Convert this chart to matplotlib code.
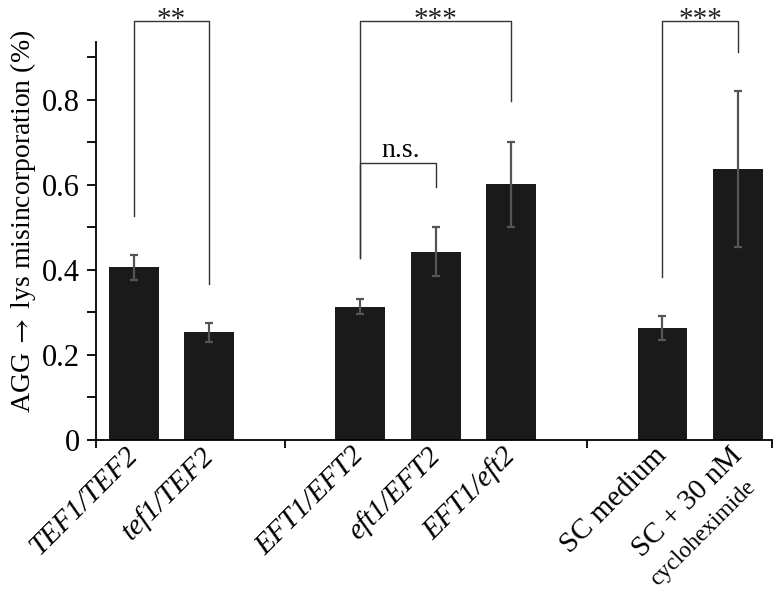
import matplotlib
matplotlib.use('Agg')
import matplotlib.pyplot as plt
import numpy as np

# bar data
positions = [0, 1, 3, 4, 5, 7, 8]
values = [0.406, 0.253, 0.314, 0.443, 0.602, 0.263, 0.637]
errors = [0.030, 0.022, 0.018, 0.058, 0.100, 0.028, 0.183]
labels = ['TEF1/TEF2', 'tef1/TEF2', 'EFT1/EFT2', 'eft1/EFT2', 'EFT1/eft2', 'SC medium', 'SC + 30 nM']
italic = [True, True, True, True, True, False, False]

# significance brackets: (left pos, right pos, top, left foot, right foot, text)
brackets = [
    (0, 1, 0.985, 0.528, 0.367, '**'),
    (3, 5, 0.985, 0.427, 0.798, '***'),
    (3, 4, 0.651, 0.427, 0.596, 'n.s.'),
    (7, 8, 0.985, 0.383, 0.912, '***'),
]

plt.rcParams['font.family'] = ['Liberation Serif', 'TeX Gyre Termes', 'DejaVu Serif']
plt.rcParams['mathtext.fontset'] = 'stix'

fig = plt.figure(figsize=(7.75, 5.93), dpi=100)
ax = fig.add_axes([96/775, 1 - 440/593, (772 - 96)/775, (440 - 41.7)/593])

ax.bar(positions, values, width=0.66, color='#1a1a1a', zorder=2)
ax.errorbar(positions, values, yerr=errors, fmt='none', ecolor='#555555',
            elinewidth=1.6, capsize=2.6, capthick=1.6, zorder=3)

for l, r, top, lf, rf, txt in brackets:
    ax.plot([l, l, r, r], [lf, top, top, rf], color='#333333', lw=1.0,
            clip_on=False, zorder=4)
    if txt == 'n.s.':
        ax.text((l + r) / 2 + 0.03, top + 0.014, txt, ha='center', va='baseline', fontsize=20)
    else:
        ax.text((l + r) / 2, top - 0.013, txt, ha='center', va='baseline', fontsize=21,
                color='#222222')

ax.set_xlim(-0.5, 8.45)
ax.set_ylim(0, 0.937)
ax.spines['top'].set_visible(False)
ax.spines['right'].set_visible(False)
ax.spines['left'].set_linewidth(1.3)
ax.spines['bottom'].set_linewidth(1.3)

ax.set_yticks([0, 0.2, 0.4, 0.6, 0.8])
ax.set_yticklabels(['0', '0.2', '0.4', '0.6', '0.8'])
ax.set_yticks(np.arange(0.1, 0.95, 0.2), minor=True)
ax.tick_params(axis='y', which='both', direction='out', length=6.5, width=1.3,
               labelsize=22, pad=5)

ax.set_xticks([-0.5, 2, 6, 8.45])
ax.set_xticklabels([])
ax.tick_params(axis='x', direction='out', length=6, width=1.3)

for p, lab, it in zip(positions, labels, italic):
    ax.text(p - 0.12, -0.005, lab, rotation=45, rotation_mode='anchor', ha='right', va='top',
            fontsize=21, style='italic' if it else 'normal', clip_on=False)
ax.text(8.09, -0.085, 'cycloheximide', rotation=45, rotation_mode='anchor', ha='right',
        va='top', fontsize=17, clip_on=False)

ax.set_ylabel(r'AGG$\;\rightarrow\;$lys misincorporation (%)', fontsize=20)
ax.yaxis.set_label_coords(-0.086, 0.55)

fig.savefig('out.png', dpi=100)
